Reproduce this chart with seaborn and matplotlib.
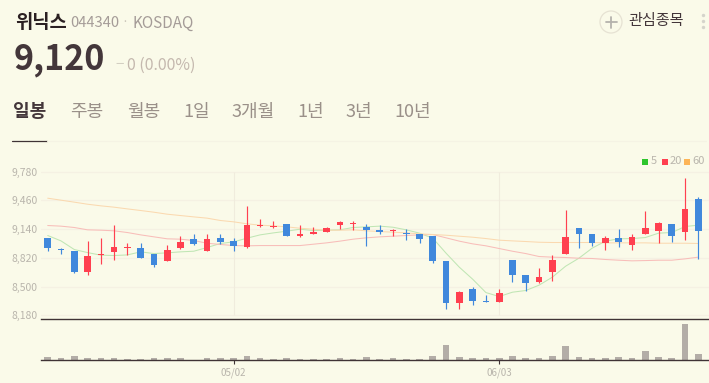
import pandas as pd
import numpy as np
import matplotlib.pyplot as plt
from matplotlib.patches import Circle, Rectangle
import seaborn as sns

# Daily candles
opens = [9040, 8920, 8900, 8660, 8850, 8880, 8930, 8930, 8860, 8780,
         8930, 9030, 8900, 9040, 9010, 8940, 9170, 9160, 9200, 9060,
         9090, 9110, 9190, 9200, 9160, 9130, 9120, 9100, 9080, 9060,
         8780, 8320, 8470, 8340, 8330, 8800, 8630, 8550, 8660, 8860,
         9150, 9080, 8980, 9040, 8960, 9090, 9120, 9200, 9110, 9470]
closes = [8930, 8910, 8660, 8840, 8860, 8940, 8940, 8820, 8740, 8910,
          9000, 8970, 9030, 9000, 8950, 9180, 9180, 9170, 9060, 9090,
          9110, 9150, 9220, 9210, 9130, 9110, 9130, 9090, 9030, 8780,
          8320, 8440, 8340, 8330, 8430, 8630, 8540, 8610, 8800, 9050,
          9080, 8980, 9040, 9000, 9050, 9150, 9210, 9060, 9360, 9120]
highs = [9040, 8930, 8900, 9010, 9040, 9190, 8990, 8980, 8860, 8960,
         9060, 9090, 9090, 9090, 9040, 9400, 9250, 9230, 9200, 9190,
         9160, 9160, 9230, 9230, 9200, 9190, 9140, 9140, 9080, 9060,
         8780, 8450, 8490, 8410, 8470, 8800, 8630, 8710, 8850, 9350,
         9150, 9080, 9060, 9140, 9090, 9340, 9220, 9200, 9710, 9500]
lows = [8900, 8860, 8650, 8630, 8750, 8800, 8850, 8820, 8720, 8780,
        8920, 8960, 8890, 8970, 8900, 8930, 9160, 9150, 9060, 9050,
        9080, 9110, 9140, 9130, 8950, 9090, 9060, 9020, 8980, 8760,
        8250, 8250, 8300, 8330, 8330, 8550, 8450, 8540, 8560, 8860,
        8930, 8950, 8910, 8940, 8910, 9090, 8980, 9000, 9020, 8810]
volumes = [10, 7, 13, 7, 7, 7, 3, 3, 7, 7,
           7, 2, 7, 7, 7, 13, 7, 3, 7, 3,
           3, 3, 7, 3, 10, 3, 7, 3, 3, 14,
           47, 10, 7, 7, 7, 14, 7, 7, 14, 43,
           10, 7, 7, 10, 7, 28, 10, 7, 109, 19]

ma5 = [9068, 9008, 8912, 8878, 8849, 8845, 8852, 8886, 8867, 8875,
       8886, 8893, 8934, 8979, 8997, 9038, 9075, 9097, 9116, 9138,
       9123, 9127, 9131, 9157, 9164, 9172, 9160, 9131, 9094, 9038,
       8871, 8715, 8582, 8433, 8389, 8437, 8456, 8515, 8604, 8726,
       8815, 8927, 9005, 9031, 9034, 9045, 9094, 9101, 9168, 9183]
ma20 = [9179, 9172, 9157, 9131, 9127, 9120, 9101, 9075, 9053, 9031,
        9027, 9012, 8982, 8968, 8956, 8953, 8956, 8956, 8956, 8956,
        8971, 8986, 9005, 9027, 9042, 9053, 9060, 9068, 9075, 9079,
        9042, 9005, 8975, 8953, 8923, 8893, 8867, 8834, 8827, 8823,
        8815, 8812, 8801, 8793, 8786, 8789, 8793, 8793, 8808, 8827]
ma60 = [9483, 9461, 9439, 9416, 9398, 9383, 9364, 9346, 9327, 9305,
        9290, 9275, 9261, 9235, 9220, 9198, 9183, 9175, 9164, 9149,
        9138, 9127, 9127, 9131, 9120, 9112, 9105, 9097, 9086, 9079,
        9071, 9060, 9049, 9034, 9016, 9008, 9001, 8993, 8990, 8990,
        8990, 8990, 8986, 8986, 8986, 8986, 8982, 8982, 8982, 8979]

price_ticks = [8180, 8500, 8820, 9140, 9460, 9780]
date_ticks = [14, 34]
date_labels = ['05/02', '06/03']
tabs = ['일봉', '주봉', '월봉', '1일', '3개월', '1년', '3년', '10년']
tab_x = [13, 70, 127, 183, 231, 297, 346, 394]

BG = '#fafae9'
UP = '#ff4050'
DOWN = '#4088dc'
DARK = '#3f3335'
GREY = '#b9b5ac'

sns.set_theme(style='white', rc={'figure.facecolor': BG, 'axes.facecolor': BG})
plt.rcParams['font.family'] = ['Noto Sans CJK KR', 'DejaVu Sans']

fig = plt.figure(figsize=(7.09, 3.83), dpi=100)
W, H = 709, 383


def px_axes(left, top, right, bottom):
    return fig.add_axes([left / W, (H - bottom) / H, (right - left) / W, (bottom - top) / H])


# Price panel
ax = px_axes(41, 160, 709, 319.3)
ax.set_facecolor('none')
idx = np.arange(len(closes))
ma_df = pd.DataFrame({'idx': idx, '5': ma5, '20': ma20, '60': ma60}).melt(id_vars='idx', var_name='ma', value_name='price')
sns.lineplot(data=ma_df, x='idx', y='price', hue='ma', palette={'5': '#c0e6b4', '20': '#f8bdb9', '60': '#fad9b0'},
             linewidth=0.75, legend=False, ax=ax, zorder=2)

colors = [UP if c >= o else DOWN for o, c in zip(opens, closes)]
ax.vlines(idx, lows, highs, colors=colors, linewidth=0.85, zorder=3)
ax.bar(idx, np.abs(np.array(closes) - np.array(opens)), bottom=np.minimum(opens, closes), width=0.5,
       color=colors, linewidth=0, zorder=4)

ax.set_xlim(-0.505, 49.8)
ax.set_ylim(8135.5, 9908)
for p in price_ticks:
    ax.axhline(p, color='#f5f1e3', linewidth=0.9, zorder=1)
ax.vlines(date_ticks, price_ticks[0], price_ticks[-1], color='#f0ecdd', linewidth=0.8, zorder=1)
ax.set_yticks(price_ticks)
ax.set_yticklabels([f'{p:,}' for p in price_ticks], color=GREY, fontsize=7.5)
ax.tick_params(axis='y', length=0, pad=2.5)
ax.set_xticks([])
ax.set_xlabel('')
ax.set_ylabel('')
sns.despine(ax=ax, top=True, left=True, right=True, bottom=False)
ax.spines['bottom'].set_color(DARK)
ax.spines['bottom'].set_linewidth(1.0)

# Volume panel
vax = px_axes(41, 319.3, 709, 360.3)
vax.set_facecolor('none')
sns.barplot(x=idx, y=volumes, native_scale=True, color='#b3ada7', saturation=1, width=0.5, ax=vax, linewidth=0)
vax.set_xlim(-0.505, 49.8)
vax.set_ylim(0, 123)
vax.set_yticks([])
vax.set_xticks(date_ticks)
vax.set_xticklabels(date_labels, color=GREY, fontsize=7)
vax.tick_params(axis='x', length=3, width=0.8, color=DARK, pad=2, bottom=True)
sns.despine(ax=vax, top=True, left=True, right=True, bottom=False)
vax.spines['bottom'].set_color(DARK)
vax.spines['bottom'].set_linewidth(1.0)

# Page header, in pixel coordinates
top = fig.add_axes([0, 0, 1, 1], zorder=10)
top.set_xlim(0, W)
top.set_ylim(H, 0)
top.axis('off')
top.patch.set_alpha(0)

top.text(15, 23, '위닉스', fontsize=13.5, fontweight='bold', color='#2b2022', va='center')
top.text(70, 23, '044340', fontsize=10.6, color='#a59c98', va='center')
top.text(125, 23, '·', fontsize=9, color='#c9c4b8', va='center', ha='center')
top.text(133, 23, 'KOSDAQ', fontsize=11, color='#a59c98', va='center')
top.text(14, 59.5, '9,120', fontsize=24.5, fontweight='bold', color='#43363a', va='center')
top.text(115, 65, '−', fontsize=11, color='#d3cfc2', va='center')
top.text(127, 65, '0 (0.00%)', fontsize=11.4, color='#c4b8ae', va='center')

for i, (t, x) in enumerate(zip(tabs, tab_x)):
    top.text(x, 111.5, t, fontsize=13, va='center', fontweight='bold' if i == 0 else 'normal',
             color='#43363a' if i == 0 else '#9a9089')
top.plot([12, 47], [140.5, 140.5], color=DARK, linewidth=0.9)
top.plot([47, 706], [140.5, 140.5], color='#f5f3e4', linewidth=0.8)

top.add_patch(Circle((611, 22), 11, facecolor='none', edgecolor='#e6e2d3', linewidth=0.9))
top.plot([605.5, 616.5], [22, 22], color='#b5b2ad', linewidth=1.3)
top.plot([611, 611], [16.5, 27.5], color='#b5b2ad', linewidth=1.3)
top.text(628, 21, '관심종목', fontsize=10.9, color='#43363a', va='center')
top.scatter([703, 703, 703], [15, 21, 27], s=6, color='#d5d4cb', linewidth=0)

# Moving average key
for x0, c, label, tx in [(642, '#2ec52c', '5', 651), (661.5, UP, '20', 670), (684, '#fdb557', '60', 692)]:
    top.add_patch(Rectangle((x0, 159), 6, 6, facecolor=c, linewidth=0))
    top.text(tx, 161.5, label, fontsize=8, color=GREY, va='center')

fig.savefig('out.png', dpi=100, facecolor=BG)
